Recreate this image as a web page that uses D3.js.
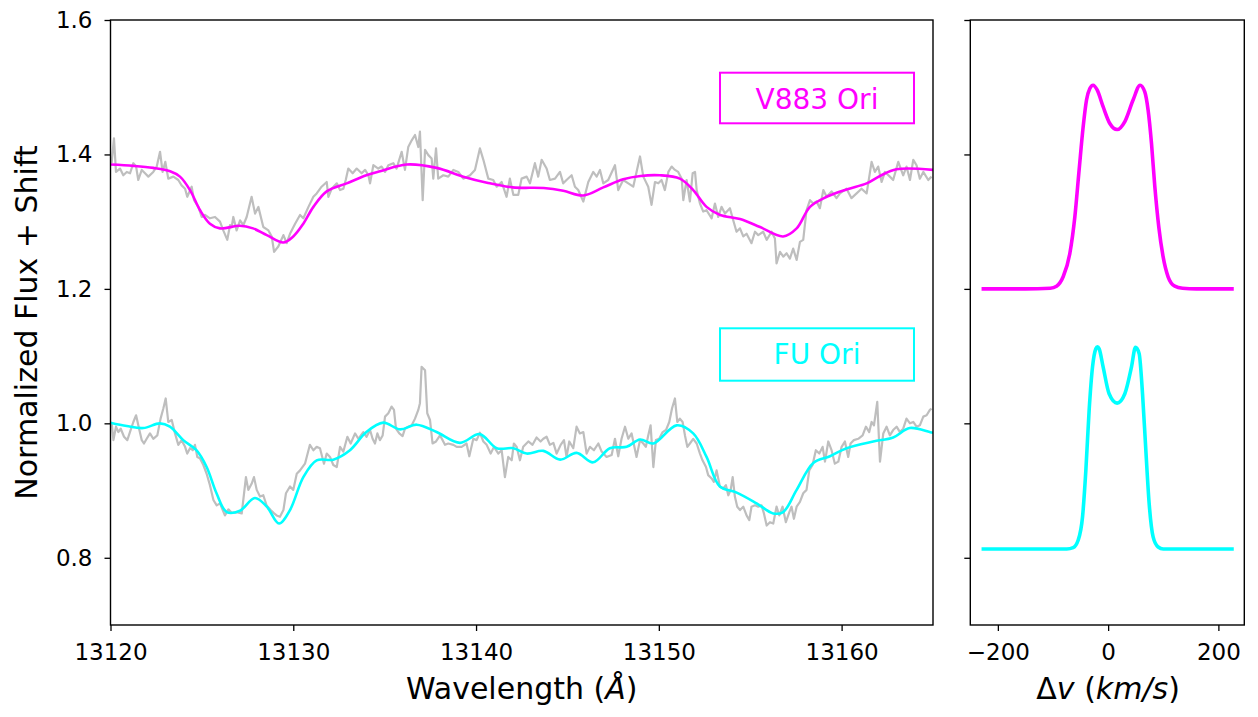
<!DOCTYPE html>
<html><head><meta charset="utf-8">
<script src="https://cdn.jsdelivr.net/npm/d3@7"></script>
<style>body{margin:0;background:#fff} svg{display:block} text{font-family:"DejaVu Sans",sans-serif}</style>
</head><body><svg id="c" width="1258" height="717"></svg>
<script>
// ---------- data ----------
const xTicksWave = [13120, 13130, 13140, 13150, 13160];
const yTicks = [0.8, 1.0, 1.2, 1.4, 1.6];
const xTicksVel = [-200, 0, 200];
const seriesNames = ["V883 Ori", "FU Ori"];
const seriesColors = ["#ff00ff", "#00ffff"];

const v883Obs = [[13120.06,1.387],[13120.19,1.424],[13120.30,1.374],[13120.52,1.379],[13120.70,1.369],[13120.89,1.374],[13121.07,1.372],[13121.25,1.387],[13121.40,1.382],[13121.52,1.362],[13121.71,1.377],[13121.89,1.372],[13122.07,1.367],[13122.34,1.374],[13122.53,1.382],[13122.71,1.404],[13122.85,1.374],[13123.00,1.389],[13123.16,1.364],[13123.44,1.367],[13123.71,1.362],[13123.89,1.354],[13124.08,1.349],[13124.20,1.337],[13124.44,1.352],[13124.57,1.332],[13124.81,1.322],[13124.99,1.307],[13125.17,1.310],[13125.44,1.305],[13125.72,1.307],[13125.99,1.300],[13126.17,1.287],[13126.39,1.273],[13126.54,1.295],[13126.63,1.292],[13126.72,1.307],[13126.90,1.287],[13127.09,1.302],[13127.27,1.295],[13127.45,1.307],[13127.72,1.337],[13127.91,1.312],[13128.09,1.322],[13128.36,1.292],[13128.64,1.287],[13128.82,1.278],[13128.95,1.255],[13129.18,1.263],[13129.46,1.280],[13129.64,1.268],[13129.82,1.282],[13130.10,1.297],[13130.37,1.310],[13130.55,1.305],[13130.83,1.322],[13131.10,1.337],[13131.28,1.342],[13131.55,1.352],[13131.83,1.359],[13131.92,1.337],[13132.10,1.349],[13132.38,1.357],[13132.56,1.347],[13132.74,1.349],[13132.87,1.362],[13133.01,1.379],[13133.25,1.372],[13133.47,1.379],[13133.74,1.372],[13133.93,1.377],[13134.11,1.369],
[13134.20,1.357],[13134.38,1.384],[13134.65,1.379],[13134.83,1.382],[13135.02,1.374],[13135.20,1.384],[13135.47,1.387],[13135.65,1.379],[13135.93,1.404],[13136.11,1.377],[13136.29,1.411],[13136.48,1.421],[13136.66,1.429],[13136.84,1.411],[13136.93,1.434],[13137.08,1.332],[13137.21,1.407],[13137.39,1.399],[13137.57,1.394],[13137.66,1.364],[13137.81,1.409],[13137.93,1.364],[13138.21,1.369],[13138.48,1.367],[13138.76,1.377],[13139.03,1.374],[13139.30,1.364],[13139.67,1.369],[13139.94,1.377],[13140.21,1.409],[13140.40,1.392],[13140.67,1.364],[13140.94,1.362],[13141.13,1.352],[13141.40,1.359],[13141.67,1.337],[13141.85,1.364],[13142.04,1.340],[13142.31,1.340],[13142.49,1.364],[13142.77,1.367],[13142.95,1.357],[13143.22,1.387],[13143.40,1.367],[13143.59,1.392],[13143.86,1.379],[13144.04,1.362],[13144.32,1.364],[13144.59,1.374],[13144.77,1.357],[13144.95,1.362],[13145.23,1.369],[13145.41,1.352],[13145.59,1.347],[13145.87,1.330],[13146.14,1.359],[13146.41,1.374],[13146.60,1.367],[13146.78,1.377],[13146.96,1.357],[13147.23,1.362],[13147.60,1.384],[13147.78,1.347],[13148.05,1.362],[13148.33,1.357],[13148.60,1.352],
[13148.97,1.397],[13149.15,1.367],[13149.42,1.352],[13149.60,1.325],[13149.79,1.359],[13149.97,1.357],[13150.15,1.362],[13150.33,1.347],[13150.52,1.374],[13150.70,1.382],[13150.88,1.377],[13151.06,1.374],[13151.25,1.364],[13151.34,1.332],[13151.52,1.362],[13151.70,1.330],[13151.85,1.372],[13151.98,1.374],[13152.07,1.347],[13152.25,1.327],[13152.43,1.315],[13152.61,1.317],[13152.89,1.305],[13153.07,1.327],[13153.25,1.307],[13153.43,1.322],[13153.62,1.312],[13153.89,1.320],[13154.07,1.302],[13154.25,1.285],[13154.44,1.290],[13154.62,1.278],[13154.80,1.282],[13155.07,1.268],[13155.26,1.285],[13155.44,1.280],[13155.71,1.285],[13155.90,1.273],[13156.17,1.285],[13156.35,1.275],[13156.44,1.238],[13156.63,1.255],[13156.81,1.248],[13156.99,1.253],[13157.17,1.245],[13157.35,1.260],[13157.54,1.243],[13157.72,1.270],[13157.90,1.273],[13158.08,1.317],[13158.27,1.332],[13158.45,1.327],[13158.63,1.330],[13158.81,1.320],[13159.00,1.347],[13159.18,1.337],[13159.45,1.345],[13159.72,1.335],[13159.91,1.342],[13160.27,1.349],[13160.54,1.335],[13160.82,1.342],[13161.09,1.349],[13161.37,1.342],[13161.64,1.389],[13161.82,1.374],[13162.00,1.382],[13162.19,1.359],[13162.37,1.374],[13162.64,1.367],[13162.82,1.362],[13163.10,1.389],[13163.37,1.369],[13163.55,1.382],[13163.74,1.362],[13163.92,1.392],[13164.10,1.384],[13164.28,1.364],[13164.47,1.374],[13164.74,1.362],[13164.92,1.367]];

const v883Model = [[13120.0,1.385],[13121.25,1.383],[13122.34,1.380],[13123.26,1.375],[13123.8,1.367],[13124.35,1.347],[13124.9,1.317],[13125.44,1.297],[13125.99,1.290],[13127.08,1.294],[13127.8,1.290],[13128.55,1.280],[13129.45,1.269],[13130.0,1.278],[13130.55,1.297],[13131.1,1.322],[13131.83,1.345],[13132.92,1.357],[13134.0,1.369],[13134.75,1.375],[13136.2,1.385],[13137.84,1.380],[13139.3,1.367],[13140.6,1.358],[13142.0,1.351],[13143.7,1.350],[13144.77,1.346],[13145.86,1.339],[13146.96,1.351],[13148.05,1.363],[13149.0,1.368],[13150.06,1.369],[13151.15,1.364],[13151.88,1.347],[13152.61,1.322],[13153.35,1.310],[13154.44,1.304],[13155.54,1.292],[13156.8,1.278],[13157.54,1.290],[13158.27,1.322],[13159.18,1.337],[13160.27,1.348],[13161.37,1.357],[13162.1,1.368],[13163.0,1.378],[13165.0,1.377]];

const fuOriObs = [[13120.06,1.002],[13120.16,0.975],[13120.30,0.995],[13120.43,0.987],[13120.56,0.992],[13120.74,0.980],[13120.92,0.975],[13121.10,0.990],[13121.25,1.002],[13121.40,1.012],[13121.58,0.990],[13121.71,0.975],[13121.83,0.970],[13121.98,0.977],[13122.16,0.985],[13122.34,0.977],[13122.56,0.982],[13122.74,1.007],[13122.89,1.022],[13123.02,1.037],[13123.16,1.002],[13123.35,1.005],[13123.53,0.985],[13123.71,0.968],[13123.89,0.975],[13124.08,0.965],[13124.20,0.955],[13124.35,0.963],[13124.50,0.960],[13124.62,0.968],[13124.75,0.950],[13124.89,0.948],[13125.08,0.938],[13125.26,0.925],[13125.44,0.908],[13125.63,0.886],[13125.81,0.878],[13125.99,0.881],[13126.26,0.863],[13126.45,0.872],[13126.63,0.867],[13126.90,0.868],[13127.18,0.866],[13127.41,0.920],[13127.54,0.901],[13127.72,0.910],[13127.85,0.920],[13128.00,0.901],[13128.18,0.891],[13128.36,0.893],[13128.54,0.878],[13128.76,0.871],[13128.95,0.866],[13129.09,0.863],[13129.27,0.861],[13129.46,0.871],[13129.60,0.896],[13129.82,0.906],[13130.00,0.901],[13130.19,0.925],[13130.37,0.930],[13130.64,0.940],[13130.91,0.968],[13131.10,0.960],[13131.28,0.965],[13131.46,0.963],[13131.68,0.940],[13131.83,0.955],[13132.01,0.950],[13132.19,0.938],[13132.38,0.935],[13132.56,0.965],[13132.74,0.958],[13132.96,0.980],[13133.14,0.970],[13133.38,0.985],[13133.56,0.977],[13133.83,0.987],[13134.01,0.980],
[13134.20,0.990],[13134.34,0.977],[13134.47,0.970],[13134.60,0.985],[13134.74,0.975],[13134.89,0.982],[13135.02,1.010],[13135.20,1.015],[13135.38,1.025],[13135.51,1.020],[13135.62,0.992],[13135.80,0.985],[13135.98,0.981],[13136.11,0.992],[13136.29,0.995],[13136.48,0.997],[13136.66,1.007],[13136.84,1.020],[13136.93,1.030],[13137.02,1.084],[13137.21,1.079],[13137.33,1.015],[13137.48,1.005],[13137.62,0.970],[13137.81,0.973],[13138.03,0.982],[13138.17,0.975],[13138.30,0.968],[13138.48,0.970],[13138.76,0.968],[13138.94,0.965],[13139.21,0.965],[13139.48,0.970],[13139.63,0.951],[13139.85,0.977],[13140.03,0.975],[13140.21,0.986],[13140.40,0.973],[13140.58,0.968],[13140.80,0.955],[13140.98,0.965],[13141.22,0.955],[13141.40,0.960],[13141.58,0.920],[13141.76,0.950],[13141.95,0.945],[13142.07,0.970],[13142.22,0.965],[13142.40,0.945],[13142.58,0.965],[13142.86,0.973],[13143.09,0.968],[13143.31,0.979],[13143.53,0.973],[13143.68,0.977],[13143.86,0.980],[13144.04,0.968],[13144.23,0.971],[13144.41,0.955],[13144.63,0.968],[13144.81,0.975],[13144.95,0.950],[13145.10,0.973],[13145.32,0.963],[13145.50,0.995],[13145.68,0.985],[13145.87,0.987],[13146.05,0.955],[13146.23,0.965],[13146.45,0.960],[13146.69,0.970],[13146.87,0.958],[13147.14,0.950],[13147.42,0.953],[13147.60,0.977],[13147.78,0.951],[13147.96,0.977],[13148.15,0.995],[13148.33,0.977],[13148.51,0.985],[13148.78,0.950],
[13148.97,0.975],[13149.15,0.970],[13149.29,0.965],[13149.42,0.982],[13149.55,0.997],[13149.70,0.935],[13149.84,0.975],[13150.02,0.977],[13150.21,0.987],[13150.39,0.990],[13150.57,1.002],[13150.72,1.022],[13150.88,1.037],[13151.01,1.002],[13151.15,1.007],[13151.30,1.002],[13151.43,0.982],[13151.56,0.965],[13151.70,0.970],[13151.88,0.977],[13152.07,0.970],[13152.25,0.955],[13152.39,0.945],[13152.58,0.935],[13152.70,0.923],[13152.89,0.918],[13153.01,0.913],[13153.16,0.930],[13153.34,0.906],[13153.52,0.903],[13153.67,0.908],[13153.80,0.893],[13153.93,0.901],[13154.04,0.920],[13154.16,0.891],[13154.29,0.876],[13154.44,0.871],[13154.62,0.876],[13154.80,0.863],[13154.95,0.856],[13155.07,0.876],[13155.26,0.878],[13155.44,0.876],[13155.62,0.878],[13155.75,0.866],[13155.90,0.848],[13156.08,0.853],[13156.26,0.851],[13156.44,0.876],[13156.59,0.863],[13156.77,0.876],[13156.95,0.853],[13157.14,0.868],[13157.26,0.876],[13157.39,0.858],[13157.54,0.876],[13157.72,0.883],[13157.90,0.896],[13158.08,0.901],[13158.23,0.930],[13158.41,0.938],[13158.59,0.960],[13158.78,0.955],[13158.96,0.965],[13159.09,0.943],[13159.27,0.973],[13159.45,0.960],[13159.63,0.940],[13159.82,0.943],[13160.00,0.965],[13160.18,0.973],[13160.36,0.950],[13160.49,0.970],[13160.67,0.975],[13160.91,0.977],[13161.15,0.982],[13161.33,0.995],[13161.51,0.987],[13161.64,1.002],[13161.77,0.997],[13161.95,1.032],[13162.10,0.943],[13162.28,0.985],[13162.46,0.995],[13162.64,0.982],[13162.82,0.990],[13163.01,0.995],[13163.19,0.987],[13163.37,0.992],[13163.55,1.007],[13163.74,1.000],[13163.92,1.002],[13164.10,0.995],[13164.28,0.997],[13164.47,1.010],[13164.65,1.012],[13164.83,1.020],[13164.92,1.022]];

const fuOriModel = [[13120.0,1.001],[13120.89,0.996],[13121.8,0.993],[13122.7,1.000],[13123.25,0.995],[13123.98,0.975],[13124.7,0.960],[13125.26,0.935],[13125.8,0.896],[13126.36,0.868],[13127.08,0.870],[13127.9,0.889],[13128.55,0.876],[13129.22,0.851],[13129.82,0.871],[13130.55,0.920],[13131.28,0.945],[13132.19,0.946],[13133.1,0.960],[13134.0,0.987],[13134.92,1.001],[13135.84,0.991],[13136.75,0.998],[13137.84,0.987],[13139.12,0.971],[13140.2,0.984],[13141.13,0.963],[13142.04,0.963],[13142.77,0.955],[13143.68,0.959],[13144.6,0.946],[13145.5,0.956],[13146.41,0.942],[13147.32,0.963],[13148.24,0.965],[13148.97,0.976],[13149.7,0.970],[13150.97,0.997],[13151.88,0.985],[13152.61,0.950],[13153.34,0.906],[13154.26,0.897],[13155.35,0.881],[13156.26,0.866],[13156.8,0.868],[13157.54,0.901],[13158.45,0.941],[13159.36,0.951],[13160.27,0.963],[13161.73,0.973],[13162.82,0.979],[13163.73,0.993],[13164.82,0.987],[13165.0,0.986]];

const v883Profile = [[-229.6,1.2],[-150,1.2],[-105,1.201],[-93.6,1.204],[-81.6,1.218],[-69.4,1.253],[-60.4,1.307],[-52.6,1.377],[-45.3,1.441],[-39.2,1.481],[-33.2,1.498],[-27.2,1.503],[-19.9,1.496],[-9.1,1.471],[3.1,1.446],[16.3,1.437],[30.3,1.449],[45.3,1.481],[58.0,1.503],[66.5,1.493],[72.5,1.466],[78.7,1.416],[84.7,1.352],[91.9,1.292],[99.7,1.248],[108.8,1.218],[120.9,1.204],[135,1.201],[160,1.2],[227.9,1.2]];

const fuOriProfile = [[-229.6,0.813],[-150,0.813],[-75,0.813],[-63.4,0.815],[-54.4,0.826],[-46.4,0.861],[-40.4,0.930],[-34.4,1.020],[-28.3,1.084],[-22.3,1.111],[-19.3,1.114],[-16.3,1.111],[-9.1,1.084],[1.8,1.044],[16.3,1.030],[30.3,1.044],[42.4,1.084],[49.6,1.113],[56.2,1.104],[62.4,1.044],[68.4,0.960],[74.4,0.881],[81.6,0.831],[90.7,0.816],[100,0.813],[150,0.813],[227.9,0.813]];

// ---------- layout ----------
const svg = d3.select("#c");
const PL = {x0:110.5, x1:933, y0:20, y1:625};
const PR = {x0:970.3, x1:1244.3};

const xW = d3.scaleLinear().domain([13120, 13165]).range([PL.x0, PL.x1]);
const xV = d3.scaleLinear().domain([-250, 247]).range([PR.x0, PR.x1]);
const y = d3.scaleLinear().domain([0.7, 1.6]).range([PL.y1, PL.y0]);

const defs = svg.append("defs");
defs.append("clipPath").attr("id","clipL").append("rect")
  .attr("x",PL.x0).attr("y",PL.y0).attr("width",PL.x1-PL.x0).attr("height",PL.y1-PL.y0);
defs.append("clipPath").attr("id","clipR").append("rect")
  .attr("x",PR.x0).attr("y",PL.y0).attr("width",PR.x1-PR.x0).attr("height",PL.y1-PL.y0);

const lineW = d3.line().x(d=>xW(d[0])).y(d=>y(d[1]));
const smoothW = d3.line().curve(d3.curveCatmullRom.alpha(0.5)).x(d=>xW(d[0])).y(d=>y(d[1]));
const smoothV = d3.line().curve(d3.curveMonotoneX).x(d=>xV(d[0])).y(d=>y(d[1]));

const gL = svg.append("g").attr("clip-path","url(#clipL)");
[v883Obs, fuOriObs].forEach(s => gL.append("path").attr("d", lineW(s))
  .attr("fill","none").attr("stroke","#bebebe").attr("stroke-width",2.2).attr("stroke-linejoin","round"));
[v883Model, fuOriModel].forEach((s,i) => gL.append("path").attr("d", smoothW(s))
  .attr("fill","none").attr("stroke",seriesColors[i]).attr("stroke-width",2.6).attr("stroke-linejoin","round"));

const gR = svg.append("g").attr("clip-path","url(#clipR)");
[v883Profile, fuOriProfile].forEach((s,i) => gR.append("path").attr("d", smoothV(s))
  .attr("fill","none").attr("stroke",seriesColors[i]).attr("stroke-width",3.6).attr("stroke-linejoin","round"));

// legend boxes
const boxes = [{y0:72.7,y1:123.3,base:108.6},{y0:328.3,y1:380.7,base:364.2}];
boxes.forEach((b,i) => {
  svg.append("rect").attr("x",720).attr("y",b.y0).attr("width",194).attr("height",b.y1-b.y0)
    .attr("fill","#fff").attr("stroke",seriesColors[i]).attr("stroke-width",2);
  svg.append("text").attr("x",817).attr("y",b.base).attr("text-anchor","middle")
    .attr("font-size",28).attr("fill",seriesColors[i]).text(seriesNames[i]);
});

// axes
function styleAxis(g){
  g.select(".domain").remove();
  g.selectAll(".tick line").attr("stroke","#000").attr("stroke-width",1.3);
  g.selectAll(".tick text").attr("fill","#000").attr("font-size",23).attr("font-family","DejaVu Sans");
}
svg.append("g").attr("transform",`translate(0,${PL.y1})`)
  .call(d3.axisBottom(xW).tickValues(xTicksWave).tickSize(6).tickPadding(13).tickFormat(d3.format("d"))).call(styleAxis);
svg.append("g").attr("transform",`translate(${PL.x0},0)`)
  .call(d3.axisLeft(y).tickValues(yTicks).tickSize(6).tickPadding(12).tickFormat(d3.format(".1f"))).call(styleAxis);
svg.append("g").attr("transform",`translate(0,${PL.y1})`)
  .call(d3.axisBottom(xV).tickValues(xTicksVel).tickSize(6).tickPadding(13).tickFormat(d3.format("d"))).call(styleAxis);
svg.append("g").attr("transform",`translate(${PR.x0},0)`)
  .call(d3.axisLeft(y).tickValues(yTicks).tickSize(6).tickFormat("")).call(styleAxis);

// frames
[[PL.x0,PL.x1],[PR.x0,PR.x1]].forEach(([a,b]) => svg.append("rect")
  .attr("x",a).attr("y",PL.y0).attr("width",b-a).attr("height",PL.y1-PL.y0)
  .attr("fill","none").attr("stroke","#000").attr("stroke-width",1.4));

// axis labels
const xl = svg.append("text").attr("x",(PL.x0+PL.x1)/2).attr("y",699).attr("text-anchor","middle").attr("font-size",30);
xl.append("tspan").text("Wavelength (");
xl.append("tspan").attr("font-style","italic").text("Å");
xl.append("tspan").text(")");

const vl = svg.append("text").attr("x",xV(0)).attr("y",699).attr("text-anchor","middle").attr("font-size",30);
vl.append("tspan").text("Δ");
vl.append("tspan").attr("font-style","italic").text("v");
vl.append("tspan").text(" (");
vl.append("tspan").attr("font-style","italic").text("km/s");
vl.append("tspan").text(")");

svg.append("text").attr("transform",`translate(37,${(PL.y0+PL.y1)/2}) rotate(-90)`)
  .attr("text-anchor","middle").attr("font-size",30).text("Normalized Flux + Shift");
</script></body></html>
